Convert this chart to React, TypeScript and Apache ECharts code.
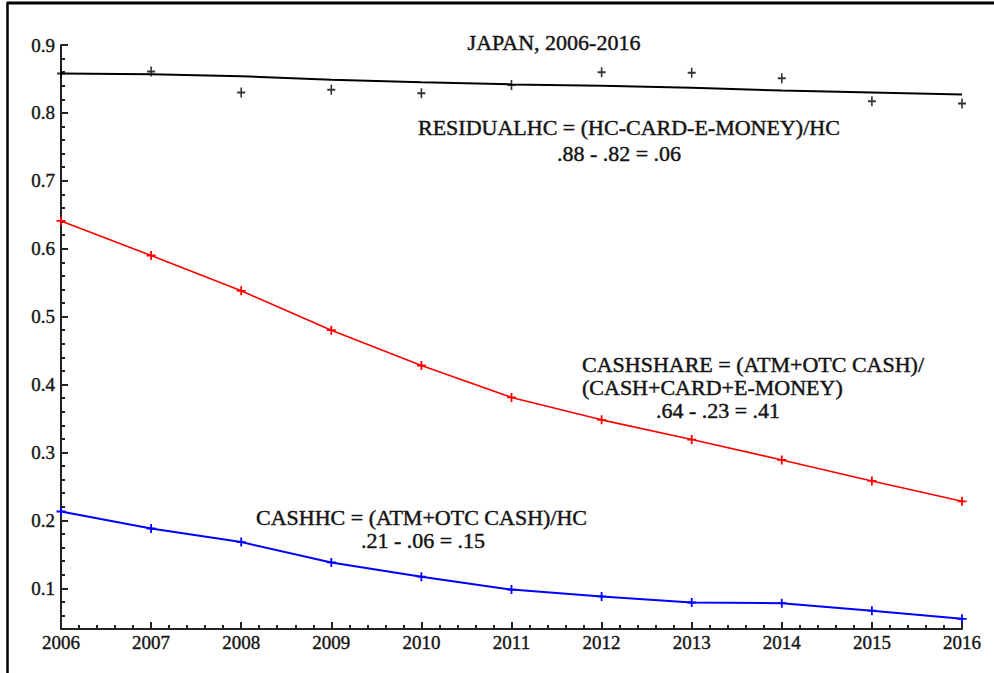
import React, { useEffect, useRef } from "react";
import * as echarts from "echarts";

const YEARS = [2006, 2007, 2008, 2009, 2010, 2011, 2012, 2013, 2014, 2015, 2016];
const RESIDUAL_FIT = [0.858, 0.857, 0.854, 0.849, 0.845, 0.842, 0.84, 0.837, 0.833, 0.83, 0.827];
const RESIDUAL_PTS = [0.858, 0.861, 0.83, 0.834, 0.829, 0.841, 0.86, 0.859, 0.851, 0.817, 0.814];
const CASHSHARE = [0.641, 0.59, 0.538, 0.48, 0.428, 0.381, 0.348, 0.319, 0.289, 0.258, 0.228];
const CASHHC = [0.213, 0.188, 0.168, 0.138, 0.117, 0.098, 0.088, 0.079, 0.078, 0.067, 0.055];
const Y_MAJOR = [0.1, 0.2, 0.3, 0.4, 0.5, 0.6, 0.7, 0.8, 0.9];
const Y_MINOR = [0.04, 0.06, 0.08, 0.12, 0.14, 0.16, 0.18, 0.22, 0.24, 0.26, 0.28, 0.32, 0.34, 0.36, 0.38,
  0.42, 0.44, 0.46, 0.48, 0.52, 0.54, 0.56, 0.58, 0.62, 0.64, 0.66, 0.68, 0.72, 0.74, 0.76, 0.78, 0.82, 0.84, 0.86, 0.88];

const PLUS = "path://M4,0H6V4H10V6H6V10H4V6H0V4H4Z";
const SERIF = "Liberation Serif";
const AX = "#222";

export default function App() {
  const ref = useRef<HTMLDivElement>(null);
  useEffect(() => {
    if (!ref.current) return;
    const chart = echarts.init(ref.current, undefined, { renderer: "svg" });
    const pair = (arr: number[]) => YEARS.map((y, i) => [y, arr[i]]);
    const txt = (x: number, y: number, t: string, align = "left") => ({
      type: "text", x, y,
      style: {
        text: t, fill: "#141414", stroke: "#141414", lineWidth: 0.45,
        fontFamily: SERIF, fontSize: 22, textAlign: align, textVerticalAlign: "middle",
      },
    });
    const axisLabel = {
      color: "#141414", fontFamily: SERIF, fontSize: 19,
      textBorderColor: "#141414", textBorderWidth: 0.4,
    };
    chart.setOption({
      animation: false,
      backgroundColor: "#fff",
      grid: { left: 61, right: 32, top: 45, bottom: 44 },
      xAxis: {
        type: "value", min: 2006, max: 2016, interval: 1,
        axisLine: { show: true, lineStyle: { color: AX, width: 2 } },
        axisTick: { show: true, inside: true, length: 7, lineStyle: { color: AX, width: 2 } },
        minorTick: { show: true, splitNumber: 5, length: 4, lineStyle: { color: AX, width: 2 } },
        splitLine: { show: false },
        axisLabel: { ...axisLabel, margin: 4, formatter: (v: number) => String(v) },
      },
      yAxis: [
        {
          type: "value", min: 0.04, max: 0.9, position: "left",
          axisLine: { show: true, lineStyle: { color: AX, width: 2 } },
          axisTick: { show: true, inside: true, length: 7, customValues: Y_MAJOR, lineStyle: { color: AX, width: 2 } },
          splitLine: { show: false },
          axisLabel: { ...axisLabel, margin: 6, customValues: Y_MAJOR, formatter: (v: number) => v.toFixed(1) },
        },
        {
          type: "value", min: 0.04, max: 0.9, position: "left", offset: 0,
          axisLine: { show: false },
          axisTick: { show: true, inside: true, length: 4, customValues: Y_MINOR, lineStyle: { color: AX, width: 2 } },
          splitLine: { show: false },
          axisLabel: { show: false },
        },
      ],
      series: [
        {
          type: "line", data: pair(RESIDUAL_FIT), showSymbol: false, symbol: "none",
          lineStyle: { color: "#000", width: 2 }, z: 2,
        },
        {
          type: "scatter", data: pair(RESIDUAL_PTS), symbol: PLUS, symbolSize: [8, 10],
          itemStyle: { color: "#000" }, z: 3,
        },
        {
          type: "line", data: pair(CASHSHARE), symbol: PLUS, symbolSize: [9, 9], showSymbol: true,
          lineStyle: { color: "#ff0000", width: 1.6 }, itemStyle: { color: "#ff0000" },
        },
        {
          type: "line", data: pair(CASHHC), symbol: PLUS, symbolSize: [9, 9], showSymbol: true,
          lineStyle: { color: "#0000ff", width: 2 }, itemStyle: { color: "#0000ff" },
        },
      ],
      graphic: [
        { type: "line", shape: { x1: 7, y1: 3, x2: 994, y2: 3 }, style: { stroke: "#000", lineWidth: 3 } },
        { type: "line", shape: { x1: 7.5, y1: 2, x2: 7.5, y2: 673 }, style: { stroke: "#000", lineWidth: 2.5 } },
        txt(554, 42, "JAPAN, 2006-2016", "center"),
        txt(418, 127, "RESIDUALHC = (HC-CARD-E-MONEY)/HC"),
        txt(619, 153, ".88 - .82 = .06", "center"),
        txt(582, 364, "CASHSHARE = (ATM+OTC CASH)/"),
        txt(582, 387, "(CASH+CARD+E-MONEY)"),
        txt(718, 410, ".64 - .23 = .41", "center"),
        txt(256, 517, "CASHHC = (ATM+OTC CASH)/HC"),
        txt(423, 540, ".21 - .06 = .15", "center"),
      ],
    });
    return () => chart.dispose();
  }, []);
  return <div ref={ref} style={{ width: 994, height: 673, position: "absolute", left: 0, top: 0 }} />;
}
